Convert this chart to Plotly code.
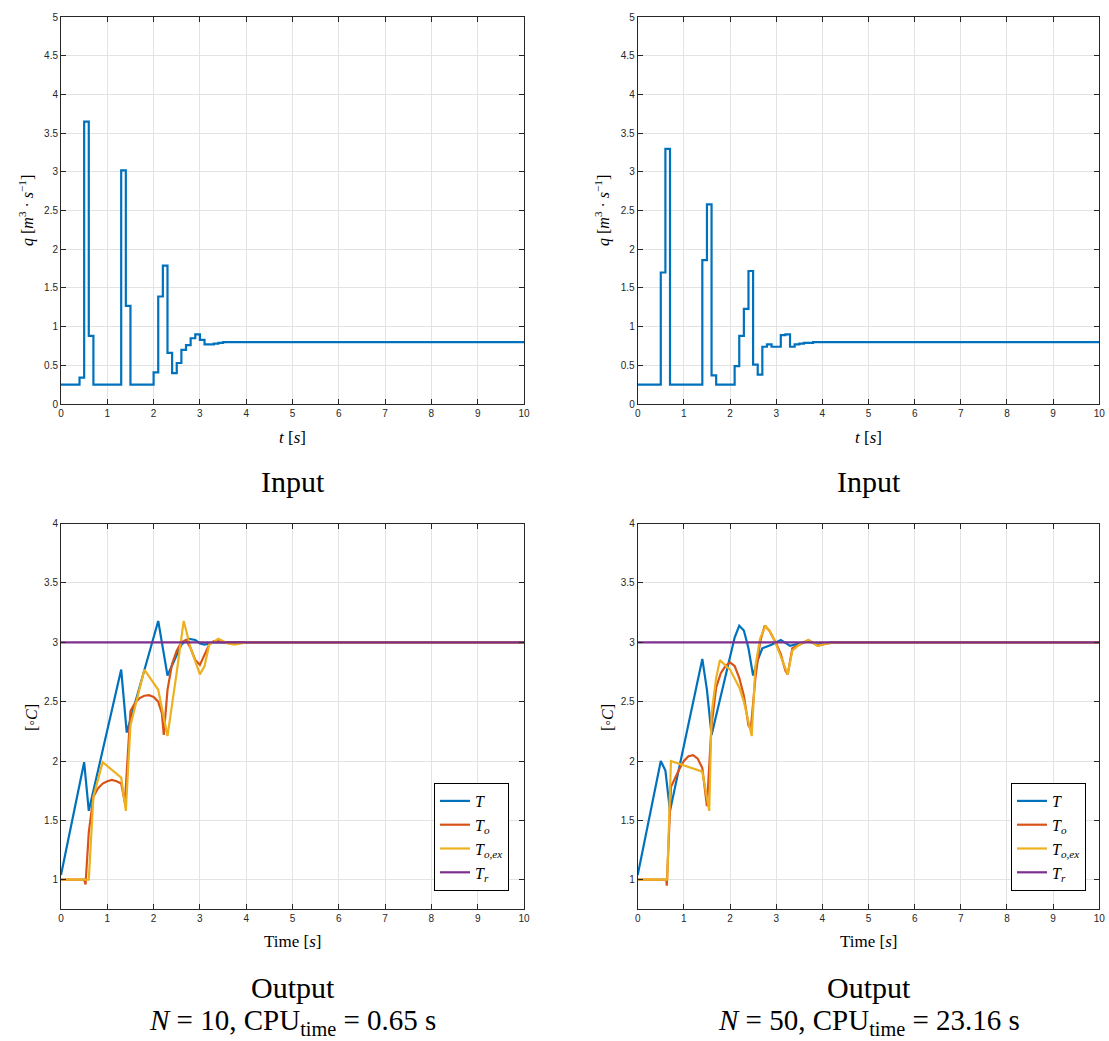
import plotly.graph_objects as go

# ---------------- data ----------------
# Input q (zero-order hold), N = 10
q10_t = [0, 0.4, 0.5, 0.6, 0.7, 1.3, 1.4, 1.5, 2.0, 2.1, 2.2, 2.3, 2.4, 2.5, 2.6, 2.7, 2.8, 2.9, 3.0, 3.1, 3.2, 3.3, 3.4, 3.5, 10]
q10_v = [0.25, 0.34, 3.65, 0.88, 0.25, 3.02, 1.27, 0.25, 0.41, 1.39, 1.79, 0.66, 0.40, 0.53, 0.70, 0.76, 0.85, 0.90, 0.83, 0.77, 0.77, 0.78, 0.79, 0.80, 0.80]
# Input q, N = 50
q50_t = [0, 0.5, 0.6, 0.7, 1.4, 1.5, 1.6, 1.7, 2.1, 2.2, 2.3, 2.4, 2.5, 2.6, 2.7, 2.8, 2.9, 3.1, 3.2, 3.3, 3.4, 3.5, 3.6, 3.8, 10]
q50_v = [0.25, 1.70, 3.30, 0.25, 1.86, 2.58, 0.37, 0.25, 0.49, 0.88, 1.23, 1.72, 0.51, 0.38, 0.74, 0.77, 0.74, 0.89, 0.90, 0.74, 0.77, 0.78, 0.79, 0.80, 0.80]

# Outputs, N = 10
T10_t = [0, 0.5, 0.6, 1.3, 1.42, 2.1, 2.3, 2.5, 2.6, 2.75, 2.9, 3.0, 3.1, 3.2, 3.3, 10]
T10_v = [1.04, 1.99, 1.58, 2.77, 2.24, 3.18, 2.72, 2.90, 2.98, 3.03, 3.02, 2.99, 2.98, 2.99, 3.0, 3.0]
To10_t = [0, 0.5, 0.53, 0.6, 0.7, 0.8, 0.9, 1.0, 1.1, 1.2, 1.3, 1.38, 1.5, 1.6, 1.7, 1.8, 1.9, 2.0, 2.1, 2.18, 2.22,
          2.3, 2.4, 2.5, 2.6, 2.7, 2.8, 2.9, 3.0, 3.1, 3.2, 3.3, 3.4, 3.5, 10]
To10_v = [1.0, 1.0, 0.96, 1.4, 1.70, 1.77, 1.81, 1.83, 1.84, 1.83, 1.81, 1.65, 2.42, 2.49, 2.53, 2.55, 2.555, 2.54, 2.50, 2.40, 2.22,
          2.60, 2.82, 2.93, 3.0, 3.02, 2.95, 2.85, 2.81, 2.90, 2.98, 3.01, 3.01, 3.0, 3.0]
Tex10_t = [0, 0.6, 0.7, 0.9, 1.3, 1.4, 1.5, 1.8, 2.1, 2.3, 2.5, 2.65, 2.8, 3.0, 3.1, 3.2, 3.4, 3.6, 3.75, 4.0, 10]
Tex10_v = [1.0, 1.0, 1.70, 1.99, 1.86, 1.58, 2.30, 2.77, 2.60, 2.21, 2.75, 3.18, 2.95, 2.73, 2.80, 2.98, 3.03, 2.99, 2.98, 3.0, 3.0]

# Outputs, N = 50
T50_t = [0, 0.5, 0.6, 0.7, 1.4, 1.5, 1.6, 2.1, 2.2, 2.3, 2.4, 2.5, 2.6, 2.7, 2.9, 3.0, 3.1, 3.3, 3.5, 3.7, 3.9, 4.2, 10]
T50_v = [1.04, 2.0, 1.92, 1.58, 2.86, 2.60, 2.22, 3.04, 3.14, 3.10, 2.95, 2.72, 2.85, 2.95, 2.98, 3.0, 3.02, 2.97, 2.99, 3.01, 2.98, 3.0, 3.0]
To50_t = [0, 0.62, 0.63, 0.72, 0.9, 1.0, 1.1, 1.2, 1.3, 1.4, 1.5, 1.6, 1.7, 1.8, 1.9, 2.0, 2.1, 2.2, 2.3, 2.4, 2.45,
          2.55, 2.65, 2.75, 2.85, 3.0, 3.1, 3.2, 3.25, 3.35, 3.5, 3.7, 3.9, 4.1, 4.3, 10]
To50_v = [1.0, 1.0, 0.95, 1.78, 1.93, 2.0, 2.04, 2.05, 2.02, 1.94, 1.62, 2.30, 2.62, 2.74, 2.80, 2.83, 2.80, 2.70, 2.55, 2.30, 2.27,
          2.70, 3.0, 3.14, 3.10, 2.99, 2.90, 2.76, 2.73, 2.95, 2.98, 3.02, 2.97, 2.99, 3.0, 3.0]
Tex50_t = [0, 0.64, 0.72, 1.4, 1.55, 1.6, 1.7, 1.78, 2.0, 2.2, 2.3, 2.47, 2.55, 2.65, 2.77, 2.9, 3.0, 3.1, 3.25, 3.35, 3.5, 3.7, 3.9, 4.1, 4.3, 10]
Tex50_v = [1.0, 1.0, 2.0, 1.91, 1.58, 2.40, 2.70, 2.85, 2.77, 2.62, 2.50, 2.21, 2.80, 3.03, 3.14, 3.07, 2.98, 2.88, 2.73, 2.93, 2.98, 3.02, 2.97, 2.99, 3.0, 3.0]

Tr_t = [0, 10]
Tr_v = [3.0, 3.0]

x_ticks = [0, 1, 2, 3, 4, 5, 6, 7, 8, 9, 10]
yq_ticks = [0, 0.5, 1, 1.5, 2, 2.5, 3, 3.5, 4, 4.5, 5]
yT_ticks = [1, 1.5, 2, 2.5, 3, 3.5, 4]

# ---------------- style ----------------
W, H = 1109, 1041
BLUE, RED, YEL, PUR = "#0072BD", "#D95319", "#EDB120", "#7E2F8E"
AX = "#262626"
GRID = "#e3e3e3"
SERIF = "Liberation Serif"
SANS = "Liberation Sans"
LW = 2.2


def px(x):
    return x / W


def py(y):
    return 1 - y / H


fig = go.Figure()

# top plots
fig.add_trace(go.Scatter(x=q10_t, y=q10_v, mode="lines", line=dict(color=BLUE, width=LW, shape="hv"),
                         xaxis="x", yaxis="y", showlegend=False))
fig.add_trace(go.Scatter(x=q50_t, y=q50_v, mode="lines", line=dict(color=BLUE, width=LW, shape="hv"),
                         xaxis="x2", yaxis="y2", showlegend=False))

names = ["<i>T</i>", "<i>T</i><sub><i>o</i></sub>", "<i>T</i><sub><i>o,ex</i></sub>", "<i>T</i><sub><i>r</i></sub>"]
left = [(T10_t, T10_v), (To10_t, To10_v), (Tex10_t, Tex10_v), (Tr_t, Tr_v)]
right = [(T50_t, T50_v), (To50_t, To50_v), (Tex50_t, Tex50_v), (Tr_t, Tr_v)]
cols = [BLUE, RED, YEL, PUR]
for (tx, ty), c, n in zip(left, cols, names):
    fig.add_trace(go.Scatter(x=tx, y=ty, mode="lines", line=dict(color=c, width=LW), name=n,
                             xaxis="x3", yaxis="y3", legend="legend"))
for (tx, ty), c, n in zip(right, cols, names):
    fig.add_trace(go.Scatter(x=tx, y=ty, mode="lines", line=dict(color=c, width=LW), name=n,
                             xaxis="x4", yaxis="y4", legend="legend2"))

xl = [px(61), px(524)]
xr = [px(637.7), px(1099.3)]
yt = [py(404), py(17.3)]
yb = [py(909.4), py(523.6)]

common = dict(showline=True, linecolor=AX, linewidth=1, mirror="ticks", ticks="inside", ticklen=5,
              tickcolor=AX, showgrid=True, gridcolor=GRID, gridwidth=1, zeroline=False, automargin=False,
              tickfont=dict(family=SANS, size=10, color=AX))

leg = dict(xanchor="right", yanchor="bottom", bgcolor="white",
           bordercolor="#000000", borderwidth=1, font=dict(family=SERIF, size=16, color="#000"),
           tracegroupgap=0, itemwidth=30)

fig.update_layout(
    width=W, height=H, margin=dict(l=0, r=0, t=0, b=0, autoexpand=False),
    paper_bgcolor="white", plot_bgcolor="white",
    xaxis=dict(domain=xl, anchor="y", range=[0, 10], tickvals=x_ticks, **common),
    yaxis=dict(domain=yt, anchor="x", range=[0, 5], tickvals=yq_ticks, **common),
    xaxis2=dict(domain=xr, anchor="y2", range=[0, 10], tickvals=x_ticks, **common),
    yaxis2=dict(domain=yt, anchor="x2", range=[0, 5], tickvals=yq_ticks, **common),
    xaxis3=dict(domain=xl, anchor="y3", range=[0, 10], tickvals=x_ticks, **common),
    yaxis3=dict(domain=yb, anchor="x3", range=[0.75, 4], tickvals=yT_ticks, **common),
    xaxis4=dict(domain=xr, anchor="y4", range=[0, 10], tickvals=x_ticks, **common),
    yaxis4=dict(domain=yb, anchor="x4", range=[0.75, 4], tickvals=yT_ticks, **common),
    legend=dict(x=px(509), y=py(891), **leg),
    legend2=dict(x=px(1086), y=py(891), **leg),
)

ann = []


def text(x, y, s, size, angle=0):
    ann.append(dict(x=px(x), y=py(y), xref="paper", yref="paper", text=s, showarrow=False,
                    xanchor="center", yanchor="middle", textangle=angle,
                    font=dict(family=SERIF, size=size, color="#000")))


for cx in (292.5, 868.5):
    text(cx, 437, "<i>t</i> [<i>s</i>]", 17)
    text(cx, 481, "Input", 30)
    text(cx, 941, "Time [<i>s</i>]", 17)
    text(cx, 987, "Output", 30)
text(292.5, 1022, "<i>N</i> = 10, CPU<sub>time</sub> = 0.65 s", 29)
text(868.5, 1022, "<i>N</i> = 50, CPU<sub>time</sub> = 23.16 s", 29)
for cx in (26, 602):
    text(cx, 211, "<i>q</i> [<i>m</i><sup>3</sup> · <i>s</i><sup>−1</sup>]", 16, -90)
for cx in (31, 607):
    text(cx, 718, "[◦<i>C</i>]", 16, -90)

fig.update_layout(annotations=ann)
fig.write_html("out.html", config={"displayModeBar": False},
               post_script="document.body.style.margin='0px';")
